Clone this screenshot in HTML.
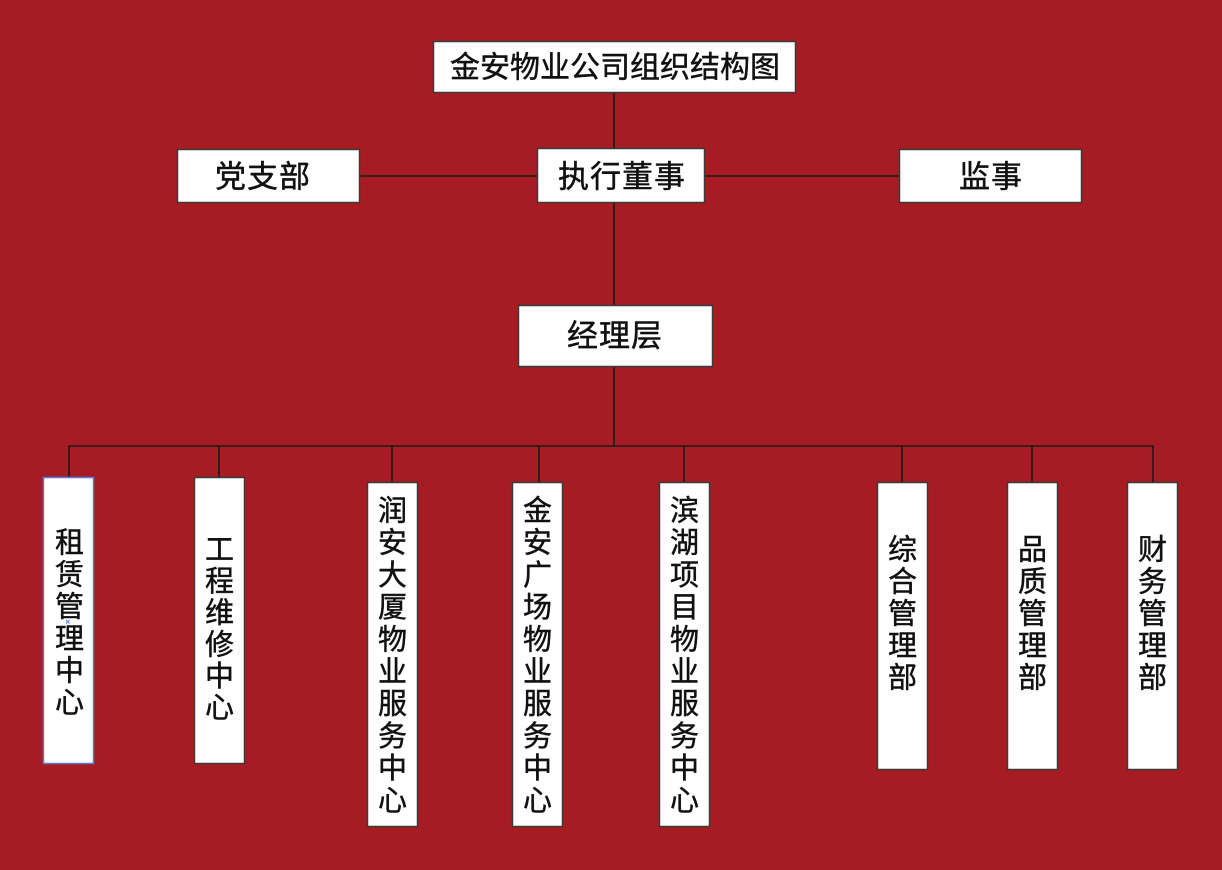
<!DOCTYPE html>
<html><head><meta charset="utf-8"><style>
html,body{margin:0;padding:0;background:#a61c22;}
svg{display:block;}
text{font-family:"Liberation Sans","Noto Sans CJK SC","WenQuanYi Zen Hei",sans-serif;fill:#111;stroke:#111;stroke-width:0.45px;}
</style></head><body>
<svg width="1222" height="870" viewBox="0 0 1222 870" xmlns="http://www.w3.org/2000/svg">
<rect x="0" y="0" width="1222" height="870" fill="#a61c22"/>
<g stroke="#1a1a1a" stroke-width="1.6" fill="none">
<line x1="614" y1="93" x2="614" y2="148"/>
<line x1="614" y1="203" x2="614" y2="305"/>
<line x1="614" y1="367" x2="614" y2="446"/>
<line x1="360" y1="176" x2="537" y2="176"/>
<line x1="705" y1="176" x2="899" y2="176"/>
<line x1="68.5" y1="446" x2="1153.5" y2="446"/>
<line x1="69" y1="446" x2="69" y2="477"/>
<line x1="219" y1="446" x2="219" y2="477"/>
<line x1="392" y1="446" x2="392" y2="482"/>
<line x1="539" y1="446" x2="539" y2="482"/>
<line x1="684" y1="446" x2="684" y2="482"/>
<line x1="902" y1="446" x2="902" y2="482"/>
<line x1="1032" y1="446" x2="1032" y2="482"/>
<line x1="1153" y1="446" x2="1153" y2="482"/>
</g>
<g fill="#fff" stroke="#3a3a3a" stroke-width="1.5">
<rect x="433.5" y="41.5" width="362" height="51"/>
<rect x="177.5" y="149.5" width="182" height="53"/>
<rect x="537.5" y="148.5" width="167" height="54"/>
<rect x="899.5" y="149.5" width="182" height="53"/>
<rect x="518.5" y="305.5" width="194" height="61"/>
<rect x="194.5" y="477.5" width="50" height="286"/>
<rect x="367.5" y="482.5" width="50" height="344"/>
<rect x="512.5" y="482.5" width="50" height="344"/>
<rect x="659.5" y="482.5" width="50" height="344"/>
<rect x="877.5" y="482.5" width="50" height="287"/>
<rect x="1007.5" y="482.5" width="50" height="287"/>
<rect x="1127.5" y="482.5" width="50" height="287"/>
</g>
<rect x="43.5" y="477.5" width="50" height="286" fill="#fff" stroke="#5a78d8" stroke-width="1.5"/>
<g stroke="#5577dd" stroke-width="1"><line x1="66" y1="620" x2="69.5" y2="623.5"/><line x1="69.5" y1="620" x2="66" y2="623.5"/></g>

<g font-size="30" text-anchor="middle" dominant-baseline="central">
<text x="615" y="68">金安物业公司组织结构图</text>
</g>
<g font-size="31" text-anchor="middle" dominant-baseline="central" letter-spacing="1">
<text x="263" y="177">党支部</text>
<text x="622" y="177">执行董事</text>
<text x="991" y="177">监事</text>
<text x="615" y="336">经理层</text>
</g>
<g font-size="29" text-anchor="middle" dominant-baseline="central">
<text><tspan x="69.5" y="543.5">租</tspan><tspan x="69.5" y="575.5">赁</tspan><tspan x="69.5" y="607.5">管</tspan><tspan x="69.5" y="639.5">理</tspan><tspan x="69.5" y="671.5">中</tspan><tspan x="69.5" y="703.5">心</tspan></text>
<text><tspan x="219.5" y="550.5">工</tspan><tspan x="219.5" y="582.1">程</tspan><tspan x="219.5" y="613.7">维</tspan><tspan x="219.5" y="645.3">修</tspan><tspan x="219.5" y="676.9">中</tspan><tspan x="219.5" y="708.5">心</tspan></text>
<text><tspan x="392.5" y="511.5">润</tspan><tspan x="392.5" y="543.7">安</tspan><tspan x="392.5" y="575.9">大</tspan><tspan x="392.5" y="608.1">厦</tspan><tspan x="392.5" y="640.3">物</tspan><tspan x="392.5" y="672.5">业</tspan><tspan x="392.5" y="704.7">服</tspan><tspan x="392.5" y="736.9">务</tspan><tspan x="392.5" y="769.1">中</tspan><tspan x="392.5" y="801.3">心</tspan></text>
<text><tspan x="537.5" y="511.5">金</tspan><tspan x="537.5" y="543.7">安</tspan><tspan x="537.5" y="575.9">广</tspan><tspan x="537.5" y="608.1">场</tspan><tspan x="537.5" y="640.3">物</tspan><tspan x="537.5" y="672.5">业</tspan><tspan x="537.5" y="704.7">服</tspan><tspan x="537.5" y="736.9">务</tspan><tspan x="537.5" y="769.1">中</tspan><tspan x="537.5" y="801.3">心</tspan></text>
<text><tspan x="684.5" y="511.5">滨</tspan><tspan x="684.5" y="543.7">湖</tspan><tspan x="684.5" y="575.9">项</tspan><tspan x="684.5" y="608.1">目</tspan><tspan x="684.5" y="640.3">物</tspan><tspan x="684.5" y="672.5">业</tspan><tspan x="684.5" y="704.7">服</tspan><tspan x="684.5" y="736.9">务</tspan><tspan x="684.5" y="769.1">中</tspan><tspan x="684.5" y="801.3">心</tspan></text>
<text><tspan x="902.5" y="550.5">综</tspan><tspan x="902.5" y="582.5">合</tspan><tspan x="902.5" y="614.5">管</tspan><tspan x="902.5" y="646.5">理</tspan><tspan x="902.5" y="678.5">部</tspan></text>
<text><tspan x="1032.5" y="550.5">品</tspan><tspan x="1032.5" y="582.5">质</tspan><tspan x="1032.5" y="614.5">管</tspan><tspan x="1032.5" y="646.5">理</tspan><tspan x="1032.5" y="678.5">部</tspan></text>
<text><tspan x="1152.5" y="550.5">财</tspan><tspan x="1152.5" y="582.5">务</tspan><tspan x="1152.5" y="614.5">管</tspan><tspan x="1152.5" y="646.5">理</tspan><tspan x="1152.5" y="678.5">部</tspan></text>
</g>
</svg>
</body></html>
